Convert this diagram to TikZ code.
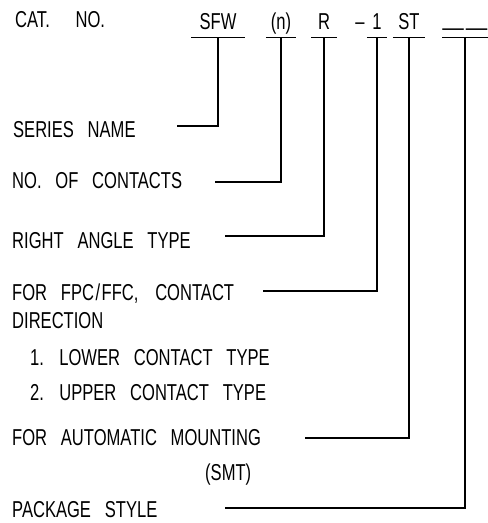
\documentclass[tikz,border=0pt]{standalone}
\usepackage{fontspec}
\setmainfont{Liberation Sans}[FakeStretch=0.72, WordSpace=3]
\begin{document}
\begin{tikzpicture}[x=1pt,y=-1pt,
  txt/.style={font=\fontsize{23}{26}\selectfont},
  lbl/.style={txt, anchor=base west, inner sep=0pt},
  code/.style={txt, anchor=base, inner sep=0pt, text depth=8pt},
  wire/.style={line width=1.1pt, line cap=butt}]
\useasboundingbox[fill=white] (0,0) rectangle (488,523);

% title
\node[lbl] (cat) at (15,27) {CAT.\kern12pt\ NO.};

% code parts
\node[code, minimum width=53] (sfw) at (218,29) {SFW};
\node[code, minimum width=30] (n)   at (281,29) {(n)};
\node[code, minimum width=25] (r)   at (324,29) {R};
\node[txt, anchor=base, inner sep=0pt] (minus) at (360,29) {–};
\node[code, minimum width=20] (one) at (377,29) {1};
\node[code, minimum width=32] (st)  at (409,29) {ST};
\node[code, minimum width=40] (pk)  at (465,29) {\raisebox{-6pt}{\scalebox{1.3}[1]{—\kern1.5pt—}}};

\foreach \c in {sfw,n,r,one,st,pk}
  \draw[wire] (\c.south west) -- (\c.south east);

% labels
\node[lbl] (ser)  at (13,137) {SERIES NAME};
\node[lbl] (noc)  at (12,188) {NO. OF CONTACTS};
\node[lbl] (rat)  at (12,248) {RIGHT ANGLE TYPE};
\node[lbl] (fpc)  at (12,300) {FOR FPC\kern1.5pt/\kern1.5pt FFC,\kern3pt\ CONTACT};
\node[lbl] (dir)  at (12,328) {DIRECTION};
\node[lbl] (low)  at (30,365) {1. LOWER CONTACT TYPE};
\node[lbl] (upp)  at (30,400) {2. UPPER CONTACT TYPE};
\node[lbl] (aut)  at (12,445) {FOR AUTOMATIC MOUNTING};
\node[lbl] (smt)  at (205,480) {(SMT)};
\node[lbl] (pst)  at (12,517) {PACKAGE STYLE};

% free ends of connectors
\coordinate (e1) at (177,126);
\coordinate (e2) at (215,182);
\coordinate (e3) at (225,236);
\coordinate (e4) at (263,291);
\coordinate (e5) at (305,438);
\coordinate (e6) at (225,508);

\draw[wire] (sfw.south) |- (e1);
\draw[wire] (n.south)   |- (e2);
\draw[wire] (r.south)   |- (e3);
\draw[wire] (one.south) |- (e4);
\draw[wire] (st.south)  |- (e5);
\draw[wire] (pk.south)  |- (e6);
\end{tikzpicture}
\end{document}
